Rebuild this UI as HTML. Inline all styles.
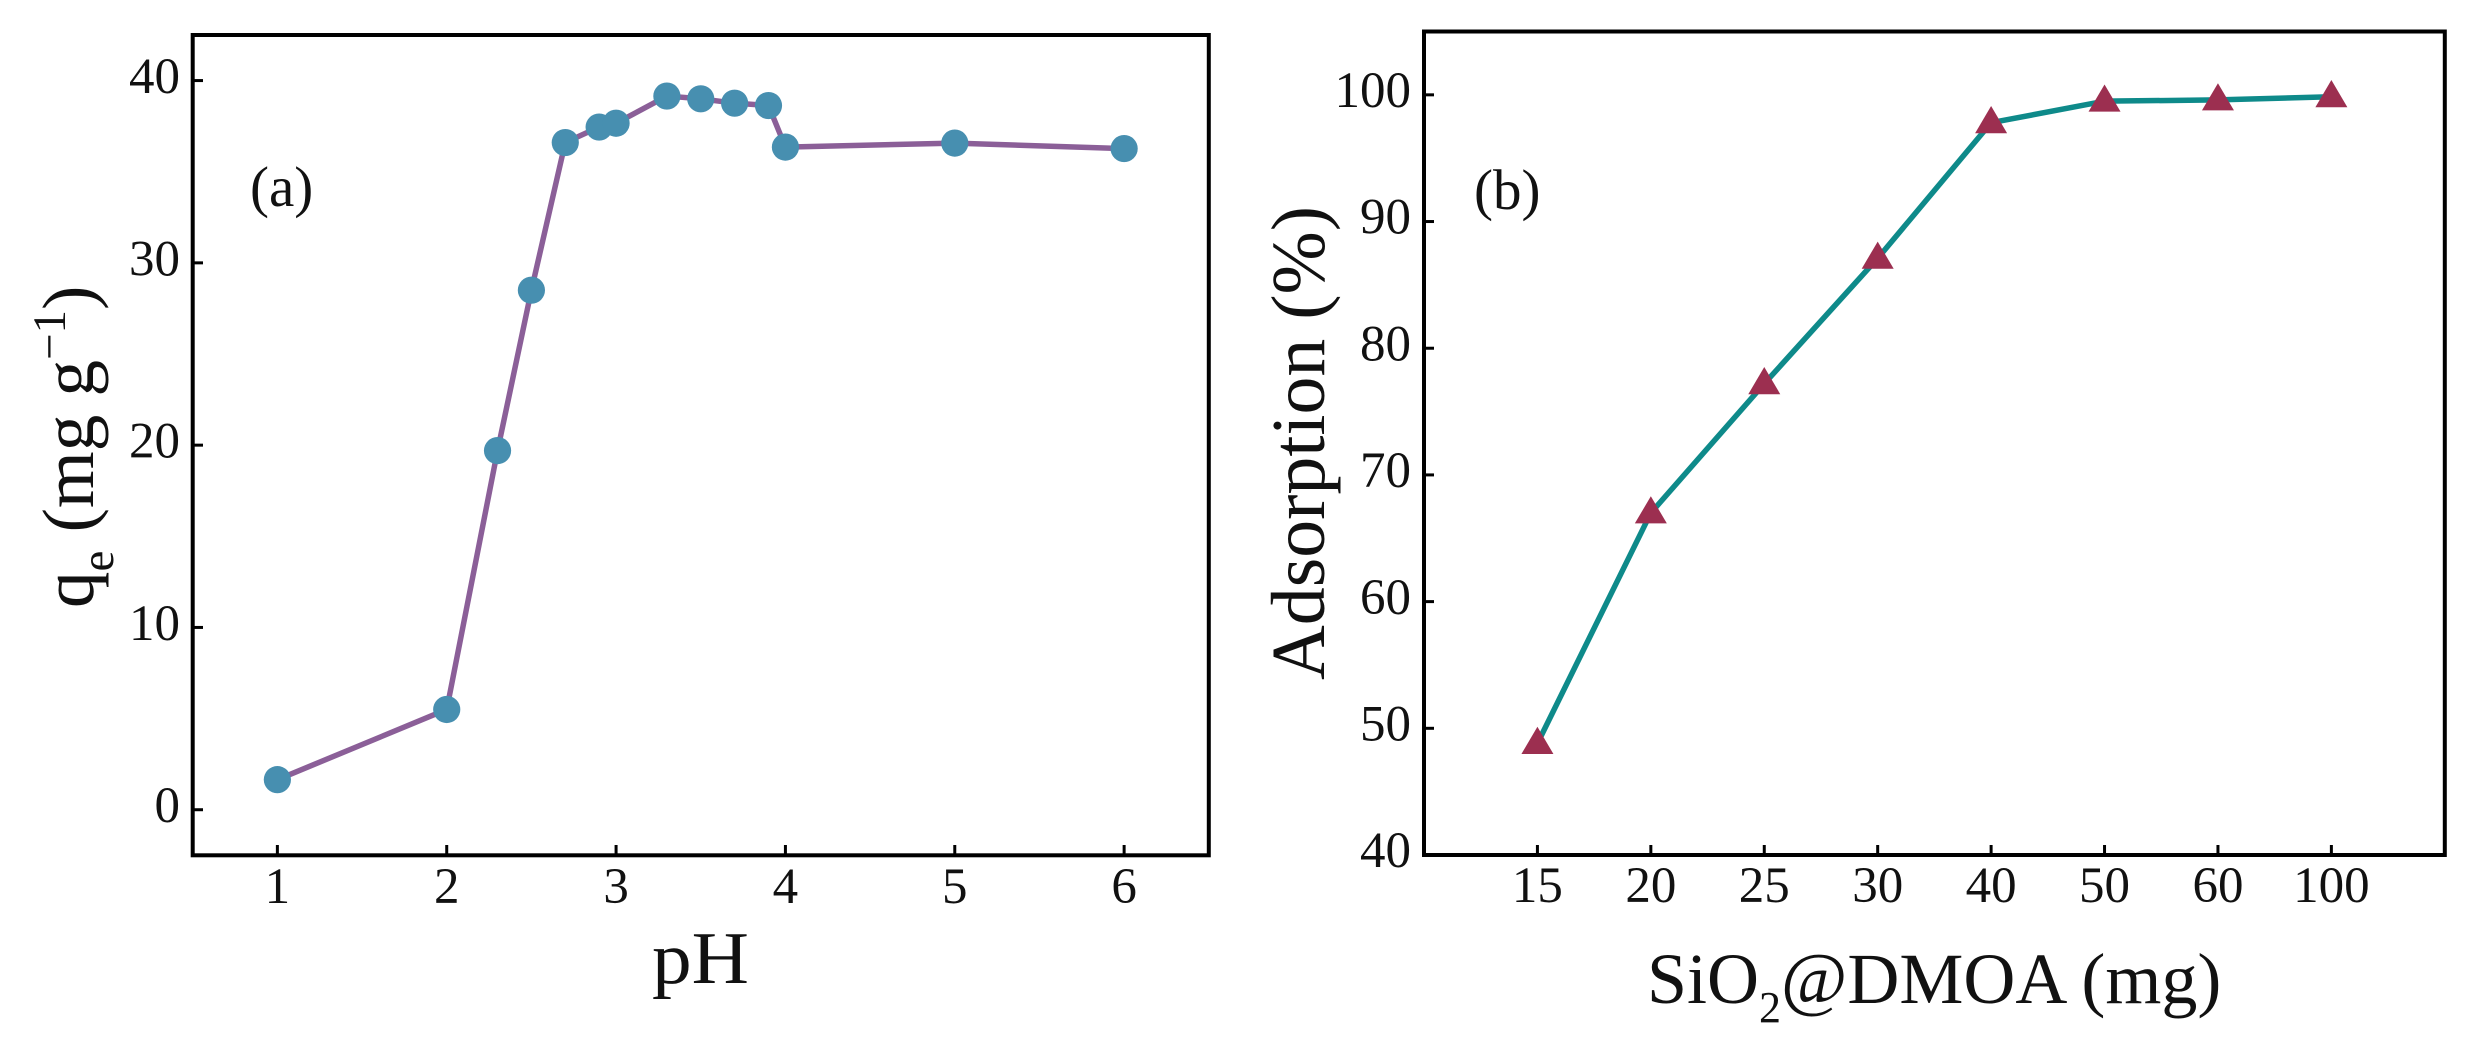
<!DOCTYPE html>
<html>
<head>
<meta charset="utf-8">
<title>Adsorption charts</title>
<style>
html,body{margin:0;padding:0;background:#fff;width:2482px;height:1061px;overflow:hidden}
svg{display:block}
text{font-family:"Liberation Serif",serif;fill:#111}
</style>
</head>
<body>
<svg id="fig" xmlns="http://www.w3.org/2000/svg" width="2482" height="1061" viewBox="0 0 2482 1061">
  <rect width="2482" height="1061" fill="#fff"/>
  <text x="250" y="206" font-size="57">(a)</text>
  <text x="1474" y="209" font-size="57">(b)</text>
  <text x="652" y="983" font-size="74" textLength="97" lengthAdjust="spacingAndGlyphs">pH</text>
  <text transform="translate(93 608) rotate(-90)" font-size="73">q<tspan font-size="47" dy="20">e</tspan><tspan dy="-20"> (mg g</tspan><tspan font-size="47" dy="-28">−1</tspan><tspan dy="28">)</tspan></text>
  <text x="1647" y="1003" font-size="72">SiO<tspan font-size="44" dy="19">2</tspan><tspan dy="-19">@DMOA (mg)</tspan></text>
  <text transform="translate(1324 680) rotate(-90)" font-size="76" textLength="474" lengthAdjust="spacingAndGlyphs">Adsorption (%)</text>
</svg>
<script>
// Panel (a) data
const phValues = [1, 2, 2.3, 2.5, 2.7, 2.9, 3, 3.3, 3.5, 3.7, 3.9, 4, 5, 6];
const qeValues = [1.65, 5.5, 19.7, 28.5, 36.6, 37.45, 37.66, 39.15, 39, 38.76, 38.63, 36.35, 36.57, 36.27];
const phTicks = [1, 2, 3, 4, 5, 6];
const qeTicks = [0, 10, 20, 30, 40];
// Panel (b) data
const doseCategories = ['15', '20', '25', '30', '40', '50', '60', '100'];
const adsorptionValues = [48.8, 67, 77.2, 87.1, 97.8, 99.5, 99.6, 99.85];
const adsorptionTicks = [40, 50, 60, 70, 80, 90, 100];

const NS = 'http://www.w3.org/2000/svg';
const fig = document.getElementById('fig');

function make(tag, attrs, parent) {
  const el = document.createElementNS(NS, tag);
  for (const k in attrs) el.setAttribute(k, attrs[k]);
  parent.appendChild(el);
  return el;
}
function linear(d0, d1, r0, r1) {
  return v => r0 + (v - d0) / (d1 - d0) * (r1 - r0);
}

// Panel (a) axes
const ax = linear(0.5, 6.5, 192.7, 1208.8);
const ay = linear(-2.5, 42.5, 855.3, 35);
// Panel (b) axes
const bx = linear(-1, 8, 1424, 2444.8);
const by = linear(40, 105, 855, 31.5);

const groupA = make('g', {}, fig);


const groupB = make('g', {}, fig);



// Panel (a) line
const lineA = make('polyline', {
  points: phValues.map((x, i) => ax(x) + ',' + ay(qeValues[i])).join(' '),
  fill: 'none', stroke: '#8b5f98', 'stroke-width': 5.5, 'stroke-linejoin': 'round'
}, groupA);



// Panel (a) markers
phValues.forEach((x, i) => {
  const c = make('circle', { cx: ax(x), cy: ay(qeValues[i]), r: 13.6, fill: '#478fb0' }, groupA);
  
  
});

// Panel (b) line
const lineB = make('polyline', {
  points: adsorptionValues.map((v, i) => bx(i) + ',' + by(v)).join(' '),
  fill: 'none', stroke: '#0e8a8a', 'stroke-width': 5.5, 'stroke-linejoin': 'round'
}, groupB);



// Panel (b) markers
adsorptionValues.forEach((v, i) => {
  const cx = bx(i), cy = by(v);
  const t = make('polygon', {
    points: cx + ',' + (cy - 16.7) + ' ' + (cx - 16) + ',' + (cy + 10.5) + ' ' + (cx + 16) + ',' + (cy + 10.5),
    fill: '#9c2f50'
  }, groupB);
  
  
});

// Frames
const frameA = make('rect', { x: 192.7, y: 35, width: 1016.1, height: 820.3, fill: 'none', stroke: '#000', 'stroke-width': 4 }, groupA);


const frameB = make('rect', { x: 1424, y: 31.5, width: 1020.8, height: 823.5, fill: 'none', stroke: '#000', 'stroke-width': 4 }, groupB);



// Panel (a) x ticks
phTicks.forEach(v => {
  const tk = make('line', { x1: ax(v), x2: ax(v), y1: 855, y2: 845, stroke: '#000', 'stroke-width': 3 }, groupA);
  
  
  const lb = make('text', { x: ax(v), y: 903, 'font-size': 51, 'text-anchor': 'middle' }, groupA);
  
  
  lb.textContent = v;
});
// Panel (a) y ticks
qeTicks.forEach(v => {
  const tk = make('line', { x1: 193, x2: 203, y1: ay(v), y2: ay(v), stroke: '#000', 'stroke-width': 3 }, groupA);
  
  
  const lb = make('text', { x: 180, y: ay(v) + 12.5, 'font-size': 51, 'text-anchor': 'end' }, groupA);
  
  
  lb.textContent = v;
});
// Panel (b) x ticks
doseCategories.forEach((c, i) => {
  const tk = make('line', { x1: bx(i), x2: bx(i), y1: 855, y2: 845, stroke: '#000', 'stroke-width': 3 }, groupB);
  
  
  const lb = make('text', { x: bx(i), y: 902, 'font-size': 51, 'text-anchor': 'middle' }, groupB);
  
  
  lb.textContent = c;
});
// Panel (b) y ticks
adsorptionTicks.forEach(v => {
  const tk = make('line', { x1: 1424, x2: 1434, y1: by(v), y2: by(v), stroke: '#000', 'stroke-width': 3 }, groupB);
  
  
  const lb = make('text', { x: 1411, y: by(v) + 12.2, 'font-size': 51, 'text-anchor': 'end' }, groupB);
  
  
  lb.textContent = v;
});
</script>
</body>
</html>
